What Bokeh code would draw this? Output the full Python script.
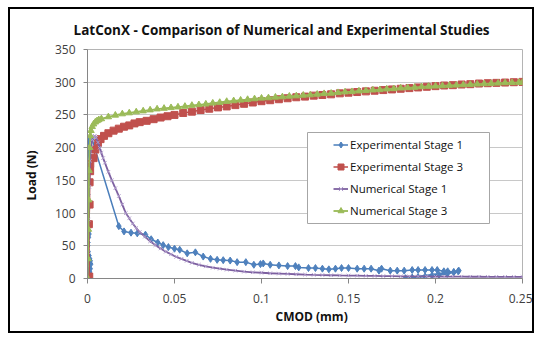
from bokeh.plotting import figure
from bokeh.models import Legend, LegendItem, Title, BoxAnnotation, FixedTicker, Range1d
from bokeh.embed import file_html
from bokeh.resources import INLINE

# ---------------- data ----------------
title_text = "LatConX - Comparison of Numerical and Experimental Studies"
x_title = "CMOD (mm)"
y_title = "Load (N)"
series_names = ["Experimental Stage 1", "Experimental Stage 3", "Numerical Stage 1", "Numerical Stage 3"]

x_ticks = [0, 0.05, 0.1, 0.15, 0.2, 0.25]
x_tick_labels = ["0", "0.05", "0.1", "0.15", "0.2", "0.25"]
y_ticks = [0, 50, 100, 150, 200, 250, 300, 350]

exp1_x = [0.0005, 0.0008, 0.0012, 0.0015, 0.0018, 0.0015, 0.0012, 0.0008, 0.0003, 0.0001,
          0.0002, 0.0005, 0.0008, 0.0005, 0.0003, 0.0001, 0.0002, 0.0001, 0.0002, 0.0003,
          0.0004, 0.0005, 0.0025, 0.018, 0.021, 0.025, 0.0286, 0.0333, 0.0366, 0.0404,
          0.0435, 0.0465, 0.05, 0.053, 0.0573, 0.062, 0.0665, 0.0707, 0.0745, 0.078,
          0.082, 0.086, 0.091, 0.0956, 0.0994, 0.101, 0.105, 0.11, 0.115, 0.1195,
          0.1214, 0.127, 0.131, 0.135, 0.1387, 0.1425, 0.146, 0.15, 0.155, 0.159,
          0.163, 0.1675, 0.169, 0.174, 0.178, 0.182, 0.1866, 0.19, 0.194, 0.198,
          0.201, 0.2048, 0.207, 0.2105, 0.2134, 0.1828, 0.1866, 0.19, 0.194, 0.198,
          0.202, 0.2067, 0.2105, 0.213]
exp1_y = [0, 5, 10, 15, 22, 27, 30, 35, 41, 50,
          55, 63, 68, 73, 80, 88, 108, 128, 150, 172,
          192, 211, 214, 80, 72, 70, 69, 67, 60, 55,
          51, 48, 45.5, 44, 38.5, 40, 33.5, 30, 28.5, 28,
          27.4, 25, 25, 21, 22, 23, 21, 20, 19, 19,
          17, 16, 16, 15, 14, 15, 16, 16, 15, 15,
          15, 12, 15, 12, 12, 12, 13, 13, 13, 13,
          13, 11, 11, 10, 12, 0.5, 1.5, 2, 3, 4.5,
          5.5, 7, 9.5, 11]

exp3_x = [0.0005, 0.001, 0.0008, 0.0012, 0.0012, 0.0015, 0.0016, 0.0035, 0.0045, 0.006,
          0.0075, 0.0095, 0.012, 0.015, 0.018, 0.021, 0.024, 0.027, 0.03, 0.034,
          0.038, 0.042, 0.046, 0.05, 0.055, 0.06, 0.065, 0.07, 0.075, 0.08,
          0.085, 0.09, 0.095, 0.1, 0.105, 0.11, 0.115, 0.12, 0.125, 0.13,
          0.135, 0.14, 0.145, 0.15, 0.155, 0.16, 0.165, 0.17, 0.175, 0.18,
          0.185, 0.19, 0.195, 0.2, 0.205, 0.21, 0.215, 0.22, 0.225, 0.23,
          0.235, 0.24, 0.245, 0.25]
exp3_y = [0, 3, 83, 113, 147, 164, 175, 184, 197, 207,
          213, 218, 222, 226, 229, 232, 234, 237, 239, 241,
          243.5, 246, 248, 250, 253, 255, 257.5, 259.5, 261.5, 263,
          265, 267, 269, 271, 272.5, 274, 275.5, 277, 278, 279.5,
          280.5, 281.5, 283, 284, 285, 286, 287, 288, 289, 290,
          291, 292, 293, 294, 295, 295.5, 296.5, 297, 298, 298.5,
          299, 299.5, 300, 300.5]

num1_x = [0, 0.0003, 0.0006, 0.001, 0.0015, 0.002, 0.0028, 0.0035, 0.0042, 0.005,
          0.006, 0.007, 0.008, 0.009, 0.01, 0.012, 0.014, 0.016, 0.018, 0.02,
          0.022, 0.024, 0.026, 0.028, 0.03, 0.033, 0.036, 0.039, 0.042, 0.045,
          0.048, 0.051, 0.054, 0.057, 0.06, 0.064, 0.068, 0.072, 0.076, 0.08,
          0.085, 0.09, 0.095, 0.1, 0.105, 0.11, 0.115, 0.12, 0.125, 0.13,
          0.135, 0.14, 0.145, 0.15, 0.155, 0.16, 0.165, 0.17, 0.175, 0.18,
          0.185, 0.19, 0.195, 0.2, 0.205, 0.21, 0.215, 0.22, 0.225, 0.23,
          0.235, 0.24, 0.245, 0.25]
num1_y = [0, 40, 90, 140, 180, 200, 212, 217, 218, 215,
          208, 200, 192, 184, 177, 163, 150, 138, 126, 113,
          100, 92, 84, 77, 71, 64, 57, 51, 46, 41,
          37, 33, 30, 27, 24, 21, 18.5, 16.5, 15, 13.5,
          12, 10.5, 9.5, 8.8, 8, 7.5, 7, 6.5, 6, 5.6,
          5.3, 5, 4.7, 4.5, 4.3, 4.1, 3.9, 3.7, 3.6, 3.4,
          3.3, 3.2, 3.1, 3.0, 2.9, 2.8, 2.75, 2.7, 2.65, 2.6,
          2.55, 2.5, 2.45, 2.4]

num3_x = [0, 0.0003, 0.0005, 0.0007, 0.0009, 0.0012, 0.0016, 0.002, 0.0027, 0.0035,
          0.0045, 0.0055, 0.0065, 0.008, 0.012, 0.016, 0.02, 0.024, 0.028, 0.032,
          0.036, 0.04, 0.044, 0.048, 0.052, 0.056, 0.06, 0.064, 0.068, 0.072,
          0.076, 0.08, 0.084, 0.088, 0.092, 0.096, 0.1, 0.104, 0.108, 0.112,
          0.116, 0.12, 0.124, 0.128, 0.132, 0.136, 0.14, 0.144, 0.148, 0.152,
          0.156, 0.16, 0.164, 0.168, 0.172, 0.176, 0.18, 0.184, 0.188, 0.192,
          0.196, 0.2, 0.204, 0.208, 0.212, 0.216, 0.22, 0.224, 0.228, 0.232,
          0.236, 0.24, 0.244, 0.248, 0.25]
num3_y = [0, 30, 75, 120, 165, 200, 218, 226, 232, 236,
          239, 241, 242.5, 244, 247, 249.5, 251.5, 253, 254.5, 256,
          257.5, 259, 260, 261, 262, 263, 264.5, 265.5, 266.5, 268,
          269, 270.5, 271.5, 272.5, 273.5, 274.5, 275.5, 276, 277, 277.5,
          278.5, 279, 280, 280.5, 281.5, 282.5, 283, 284, 285, 285.5,
          286.5, 287, 288, 288.5, 289.5, 290, 291, 291.5, 292, 293,
          293.5, 294, 294.5, 295, 295.5, 296, 296.5, 297, 297.5, 298,
          298.5, 299, 299.3, 299.6, 299.8]

# ---------------- styling ----------------
FONT = "Open Sans"
TXT = "#111111"
BLUE, BLUE_M = "#4A7EBB", "#4F81BD"
RED, RED_M = "#BE4B48", "#C0504D"
PURPLE, PURPLE_M = "#7D60A0", "#B09CCC"
GREEN, GREEN_M = "#98B954", "#9BBB59"

p = figure(width=526, height=326, output_backend="svg", toolbar_location=None,
           x_range=Range1d(0, 0.25), y_range=Range1d(0, 350),
           min_border_left=77, min_border_right=14, min_border_top=39, min_border_bottom=57,
           background_fill_color="white", border_fill_color="white")
p.margin = (7, 0, 0, 8)
p.styles = {"border": "2px solid black"}
p.outline_line_color = "#b4b4b4"
p.outline_line_width = 1

# title
p.title.text = title_text
p.title.align = "left"
p.title.offset = -14
p.title.standoff = 20
p.title.vertical_align = "middle"
p.title.text_font = FONT
p.title.text_font_style = "bold"
p.title.text_font_size = "13.5px"
p.title.text_color = TXT

p.xgrid.visible = False
p.ygrid.ticker = FixedTicker(ticks=y_ticks)
p.ygrid.grid_line_color = "#c8c8c8"
p.ygrid.grid_line_width = 1

p.xaxis.ticker = FixedTicker(ticks=x_ticks)
p.xaxis.major_label_overrides = dict(zip(x_ticks, x_tick_labels))
p.yaxis.ticker = FixedTicker(ticks=y_ticks)
for ax in (p.xaxis[0], p.yaxis[0]):
    ax.axis_line_color = "#868686"
    ax.major_tick_line_color = "#868686"
    ax.minor_tick_line_color = None
    ax.major_tick_in = 0
    ax.major_label_text_font = FONT
    ax.major_label_text_font_size = "12px"
    ax.major_label_text_color = "#404040"
p.xaxis.major_tick_out = 5
p.xaxis.major_label_standoff = 10
p.yaxis.major_tick_out = 4
p.yaxis.major_label_standoff = 8

# axis titles as side titles (allow offset along the edge)
p.add_layout(Title(text=x_title, align="left", offset=188, standoff=3, vertical_align="middle",
                   text_font=FONT, text_font_style="bold", text_font_size="12px",
                   text_color=TXT), "below")
p.add_layout(Title(text=y_title, align="left", offset=78, standoff=22, vertical_align="middle",
                   text_font=FONT, text_font_style="bold", text_font_size="12px",
                   text_color=TXT), "left")

# series
r1l = p.line(exp1_x, exp1_y, line_color=BLUE, line_width=1.5)
r1s = p.scatter(exp1_x, exp1_y, marker="diamond", size=7, fill_color=BLUE_M, line_color=BLUE_M)
r2l = p.line(exp3_x, exp3_y, line_color=RED, line_width=1.5)
r2s = p.scatter(exp3_x, exp3_y, marker="square", size=7, fill_color=RED_M, line_color=RED_M)
r3l = p.line(num1_x, num1_y, line_color=PURPLE, line_width=1.8)
r3s = p.scatter(num1_x, num1_y, marker="x", size=5, line_color=PURPLE_M, line_width=1)
r4l = p.line(num3_x, num3_y, line_color=GREEN, line_width=1.8)
r4s = p.scatter(num3_x, num3_y, marker="triangle", size=6.5, fill_color=GREEN_M, line_color=GREEN_M)

# legend frame
box = BoxAnnotation(left=220, right=402, bottom=55, top=146,
                    left_units="screen", right_units="screen",
                    bottom_units="screen", top_units="screen",
                    fill_color="white", fill_alpha=1.0,
                    line_color="#a6a6a6", line_width=1, line_alpha=1.0)
p.add_layout(box)

legend = Legend(items=[
    LegendItem(label=series_names[0], renderers=[r1l, r1s]),
    LegendItem(label=series_names[1], renderers=[r2l, r2s]),
    LegendItem(label=series_names[2], renderers=[r3l, r3s]),
    LegendItem(label=series_names[3], renderers=[r4l, r4s]),
], location=(241, 55.5))
legend.padding = 5
legend.margin = 0
legend.spacing = 7
legend.label_height = 15
legend.glyph_height = 15
legend.glyph_width = 15
legend.label_standoff = 2
legend.border_line_alpha = 0
legend.background_fill_alpha = 0
legend.label_text_font = FONT
legend.label_text_font_size = "11.5px"
legend.label_text_color = TXT
p.add_layout(legend)

open("out.html", "w").write(file_html(p, INLINE))
